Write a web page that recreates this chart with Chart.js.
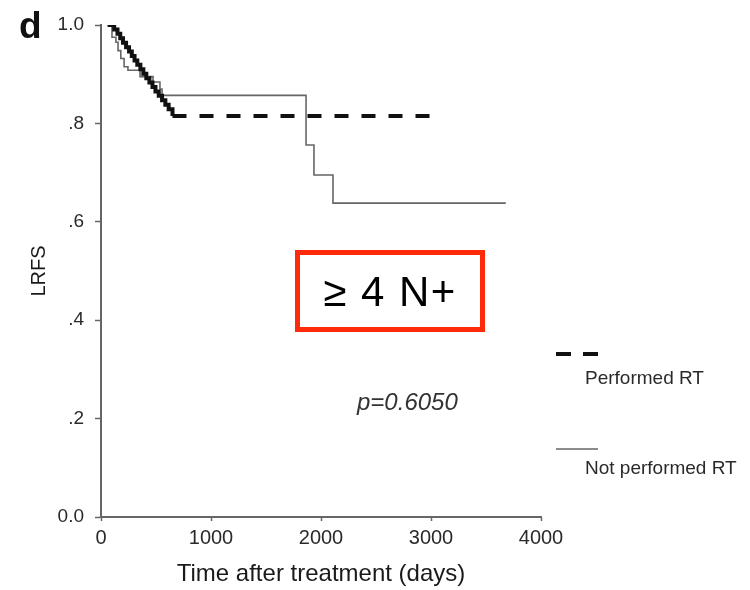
<!DOCTYPE html>
<html>
<head>
<meta charset="utf-8">
<script src="https://cdn.jsdelivr.net/npm/chart.js@4/dist/chart.umd.min.js"></script>
<style>
  html, body { margin: 0; padding: 0; background: #fff; }
  #c { display: block; }
</style>
</head>
<body>
<canvas id="c" width="750" height="590"></canvas>
<script>
// ---- data ----
const performedDays = [60, 120, 150, 175, 200, 228, 255, 280, 305, 330, 358, 385, 412, 440, 468, 495, 525, 555, 585, 615, 650, 3000];
const performedSurv = [1.0, 0.991, 0.982, 0.973, 0.964, 0.955, 0.946, 0.937, 0.928, 0.919, 0.910, 0.901, 0.892, 0.883, 0.874, 0.865, 0.856, 0.847, 0.838, 0.829, 0.815, 0.815];
const notPerformedDays = [60, 100, 136, 155, 180, 210, 245, 355, 473, 536, 555, 1864, 1936, 2109, 3680];
const notPerformedSurv = [1.0, 0.975, 0.965, 0.948, 0.932, 0.915, 0.908, 0.895, 0.884, 0.870, 0.857, 0.756, 0.695, 0.638, 0.638];
const seriesNames = ['Performed RT', 'Not performed RT'];
const xTicks = [0, 1000, 2000, 3000, 4000];
const yTicks = [0, 0.2, 0.4, 0.6, 0.8, 1.0];
const yTickLabels = ['0.0', '.2', '.4', '.6', '.8', '1.0'];
const panelLetter = 'd';
const groupLabel = '\u2265 4 N+';
const pValueText = 'p=0.6050';
const xTitle = 'Time after treatment (days)';
const yTitle = 'LRFS';

const toPts = (xs, ys) => xs.map((x, i) => ({ x: x, y: ys[i] }));
const FONT = '"Liberation Sans", Arial, sans-serif';

const lastPerf = performedDays.length - 1;

const annotations = {
  id: 'annotations',
  afterDraw(chart) {
    const ctx = chart.ctx;
    ctx.save();
    // panel letter
    ctx.fillStyle = '#111';
    ctx.font = 'bold 37px ' + FONT;
    ctx.textAlign = 'left';
    ctx.textBaseline = 'alphabetic';
    ctx.fillText(panelLetter, 19, 38);

    // red box with group label
    ctx.strokeStyle = '#ff2a0a';
    ctx.lineWidth = 5;
    ctx.strokeRect(297.5, 252.5, 185, 77);
    ctx.fillStyle = '#000';
    ctx.font = '42px ' + FONT;
    ctx.textAlign = 'center';
    ctx.textBaseline = 'middle';
    try { ctx.letterSpacing = '1.5px'; } catch (e) {}
    ctx.fillText(groupLabel, 390, 294);
    try { ctx.letterSpacing = '0px'; } catch (e) {}

    // p-value
    ctx.fillStyle = '#333';
    ctx.font = 'italic 24px ' + FONT;
    ctx.textAlign = 'left';
    ctx.fillText(pValueText, 357, 403);

    // legend
    const ds = chart.data.datasets;
    const legendRows = [{ y: 354, ty: 379 }, { y: 449, ty: 469 }];
    ds.forEach((d, i) => {
      const r = legendRows[i];
      ctx.beginPath();
      ctx.strokeStyle = d.borderColor;
      ctx.lineWidth = d.borderWidth;
      ctx.setLineDash(i === 0 ? [15, 12] : []);
      ctx.moveTo(556, r.y);
      ctx.lineTo(598, r.y);
      ctx.stroke();
      ctx.setLineDash([]);
      ctx.fillStyle = '#2a2a2a';
      ctx.font = '19px ' + FONT;
      ctx.textAlign = 'left';
      ctx.textBaseline = 'middle';
      ctx.fillText(d.label, 585, r.ty);
    });
    ctx.restore();
  }
};

new Chart(document.getElementById('c'), {
  type: 'line',
  data: {
    datasets: [
      {
        label: seriesNames[0],
        data: toPts(performedDays, performedSurv),
        stepped: 'before',
        borderColor: '#111',
        borderWidth: 4,
        pointRadius: 0,
        fill: false,
        borderJoinStyle: 'miter',
        segment: {
          borderDash: (c) => (c.p1DataIndex === lastPerf ? [14, 13] : undefined)
        }
      },
      {
        label: seriesNames[1],
        data: toPts(notPerformedDays, notPerformedSurv),
        stepped: 'before',
        borderColor: '#666',
        borderWidth: 1.6,
        pointRadius: 0,
        fill: false
      }
    ]
  },
  options: {
    responsive: false,
    animation: false,
    devicePixelRatio: 1,
    layout: { padding: { top: 25, right: 209, left: 0, bottom: 0 } },
    plugins: { legend: { display: false }, tooltip: { enabled: false } },
    scales: {
      x: {
        type: 'linear',
        min: 0,
        max: 4000,
        afterBuildTicks: (s) => { s.ticks = xTicks.map(v => ({ value: v })); },
        afterFit: (s) => { s.height = 73; },
        grid: { display: true, drawOnChartArea: false, drawTicks: true, tickLength: 4, color: '#666', tickWidth: 1.5 },
        border: { display: true, color: '#666', width: 2 },
        ticks: { color: '#2a2a2a', font: { family: FONT, size: 20 }, padding: 5, maxRotation: 0, callback: (v) => String(v) },
        title: { display: true, text: xTitle, color: '#1a1a1a', font: { family: FONT, size: 24 }, padding: { top: 0, bottom: 1 } }
      },
      y: {
        type: 'linear',
        min: 0,
        max: 1,
        afterBuildTicks: (s) => { s.ticks = yTicks.map(v => ({ value: v })); },
        afterFit: (s) => { s.width = 101; },
        grid: { display: true, drawOnChartArea: false, drawTicks: true, tickLength: 6, color: '#666', tickWidth: 1.5 },
        border: { display: true, color: '#666', width: 2 },
        ticks: {
          color: '#2a2a2a',
          font: { family: FONT, size: 19 },
          padding: 11,
          callback: (v) => { const i = yTicks.indexOf(v); return i >= 0 ? yTickLabels[i] : ''; }
        },
        title: { display: true, text: yTitle, color: '#1a1a1a', font: { family: FONT, size: 20 }, padding: { top: 27, bottom: 0 } }
      }
    }
  },
  plugins: [annotations]
});
</script>
</body>
</html>
